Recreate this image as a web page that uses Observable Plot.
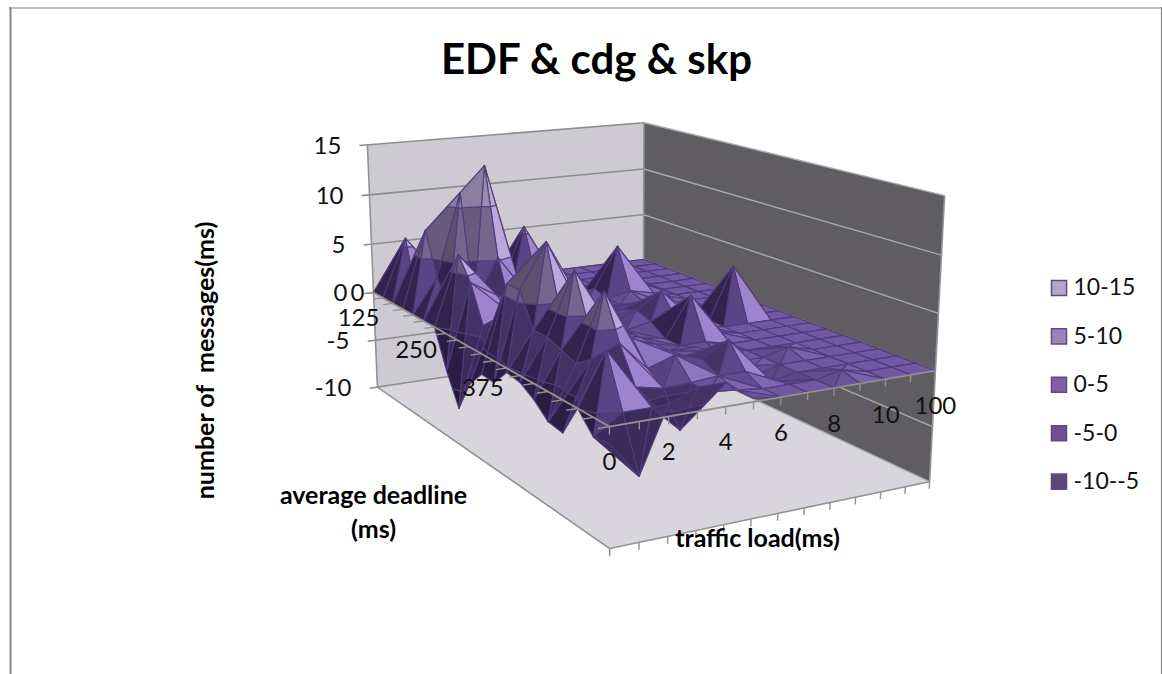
<!DOCTYPE html>
<html><head><meta charset="utf-8">
<script src="https://cdn.jsdelivr.net/npm/d3@7"></script>
<script src="https://cdn.jsdelivr.net/npm/@observablehq/plot@0.6"></script>
<style>html,body{margin:0;padding:0;background:#fff;overflow:hidden}svg{display:block}</style>
</head><body><div id="chart"></div>
<script>
// ---- data ----
const title = "EDF & cdg & skp";
const zTicks = [-10, -5, 0, 5, 10, 15];
const deadlineLabels = ["0", "125", "250", "375"];
const deadlineLabelIndex = [0, 5, 10, 15];
const loadLabels = ["0", "2", "4", "6", "8", "10", "100"];
const loadLabelIndex = [0, 2, 4, 6, 8, 10, 12];
const legendLabels = ["10-15", "5-10", "0-5", "-5-0", "-10--5"];
const legendColors = ["#b3a8c8", "#9a85bb", "#8060a5", "#6d5490", "#5d4678"];
const surface = [
  [0,0,0,0,0,0,0,0,0,0,0,0,0],
  [0,5.8,0,0,0,0,5.7,0,0,0,0,0,0],
  [0,0,2,3,1,0,1,0,0,0,0,0,0],
  [0,7.5,5,6,1,0,0,0,0,0,0,0,0],
  [0,3.4,11.4,13.8,3,0.5,0,0,0.5,0,0,0,0],
  [0,0.5,1,5.3,1,0,0,1,5,1,0,0,0],
  [0,6.6,3.5,1,1,0,0,0.5,1,0.5,0,0,0],
  [-3.6,4.5,3,2,1,0.5,0.5,0.5,0.5,0,0,0,0],
  [-6.5,1,2,2,1.5,1,1,1,0,0,0,0,0],
  [-3.5,2,3,3,2,1,1.5,2,0.5,0,0,0,0],
  [-1.9,6,6,5.5,3,1,2,3.5,1.5,0,5,0,0],
  [-2,6,10,5.5,2,1,1.5,1.5,0.5,0,0,0,0],
  [-0.4,3,4,3,1.5,1,0.5,4.2,0.5,0,0,0,0],
  [-0.6,3,8.5,3.5,1.5,1,0.5,0.5,0,0,0,0,0],
  [-1.4,2.5,4,3,1.5,1,1,0,0,0,0,0,0],
  [-2.6,2,7.8,3.5,1.1,1.2,1.3,0,0,0.6,0,0,0],
  [-2.8,3,4,1.5,2.3,1.6,2.9,0.3,0,0,0,0,0],
  [0,4.4,1,0.5,0.6,0.8,0.8,-0.4,0,0,0,0,0],
  [-1.6,0,0,-2.3,0.5,0.3,0,0,0,0.5,0,0,0],
  [-1.4,-4.5,1,2,2,0.3,0,0,0,0,0,0,0]
];
// ---- camera ----
const nI = surface.length - 1, nJ = surface[0].length - 1;
function project(i, j, z) {
  const w = 1 - 0.01295 * i + 0.00692 * j - 0.00159 * z;
  return [(373 + 4.532 * i + 26.95 * j - 0.989 * z) / w,
          (292 + 1.537 * i - 0.958 * j - 10.07 * z) / w, w];
}
// ---- shading ----
const bands = [-10, -5, 0, 5, 10, 15];
const bandBase  = ["#4a3670", "#654f92", "#7258a4", "#86739f", "#a99dbf"];
const bandDark  = ["#211633", "#2a1d44", "#31224e", "#5b5070", "#7d7290"];
const bandLight = ["#8a6fb8", "#9a7fc6", "#ab8ed9", "#c9b6ea", "#bcb0d2"];
function shade(band, f) {
  const k = f < 0 ? Math.min(1, Math.pow(-f, 0.95)) : Math.min(1, f * 1.1);
  return d3.interpolateRgb(bandBase[band], f < 0 ? bandDark[band] : bandLight[band])(k);
}
// facets to the left of their apex are in shade, facets to its right are lit
function facing(t) {
  const s = [...t].sort((p, q) => q[2] - p[2]);
  const rise = s[0][2] - s[1][2], drop = s[1][2] - s[2][2];
  const spike = drop > rise;
  const apex = spike ? s[2] : s[0];
  const rest = spike ? [s[0], s[1]] : [s[1], s[2]];
  const dz = Math.abs(apex[2] - (rest[0][2] + rest[1][2]) / 2);
  const steep = Math.min(1, dz / 2.5);
  if (spike) return -0.7 * steep;
  const dx = d3.mean(rest, q => (q[0] - apex[0]) * 13 + (q[1] - apex[1]) * 28);
  return Math.max(-1, Math.min(1, (dx - 8) / 26)) * steep;
}
function clipBand(poly, lo, hi) {
  const clip = (pts, keep, t) => {
    const out = [];
    pts.forEach((p, k) => {
      const q = pts[(k + 1) % pts.length];
      const kp = keep(p[2]), kq = keep(q[2]);
      if (kp) out.push(p);
      if (kp !== kq) {
        const r = (t - p[2]) / (q[2] - p[2]);
        out.push([p[0] + r*(q[0]-p[0]), p[1] + r*(q[1]-p[1]), t]);
      }
    });
    return out;
  };
  let r = clip(poly, z => z >= lo, lo);
  if (r.length) r = clip(r, z => z <= hi, hi);
  return r;
}
// ---- build surface facets, back to front ----
const cells = [];
for (let i = 0; i < nI; i++) for (let j = 0; j < nJ; j++) cells.push([i, j]);
cells.sort((a, b) => project(b[0]+.5, b[1]+.5, 0)[2] - project(a[0]+.5, a[1]+.5, 0)[2]);
const facets = [];
let fid = 0;
for (const [i, j] of cells) {
  const P = (a, b) => [a, b, surface[a][b]];
  const a = P(i, j), b = P(i+1, j), c = P(i+1, j+1), d = P(i, j+1);
  let tris;
  const flat = a[2] === b[2] && b[2] === c[2] && c[2] === d[2];
  if (flat) tris = [[a, b, c, d]];
  else if (Math.abs(a[2]-c[2]) >= Math.abs(b[2]-d[2])) tris = [[a, b, c], [a, c, d]];
  else tris = [[a, b, d], [b, c, d]];
  const depth = t => d3.mean(t, q => project(q[0], q[1], q[2])[2]);
  tris.sort((s, t) => depth(t) - depth(s));
  for (const t of tris) {
    const f = flat ? 0 : facing(t);
    for (let k = 0; k < bands.length - 1; k++) {
      const poly = clipBand(t, bands[k], bands[k+1]);
      if (poly.length < 3) continue;
      const area = d3.polygonArea(poly.map(q => project(q[0], q[1], q[2]).slice(0, 2)));
      if (Math.abs(area) < 0.01) continue;
      const col = shade(k, f);
      fid++;
      [...poly, poly[0]].forEach(q => {
        const [x, y] = project(q[0], q[1], q[2]);
        facets.push({x, y, id: fid, fill: col});
      });
    }
  }
}
// ---- box ----
function quad(id, fill, pts) {
  return [...pts, pts[0]].map(q => { const [x, y] = project(...q); return {x, y, id, fill}; });
}
const walls = [
  ...quad("back", "#cdcbd1", [[0,0,-10],[0,0,15],[0,nJ,15],[0,nJ,-10]]),
  ...quad("side", "#5f5d62", [[0,nJ,-10],[0,nJ,15],[nI,nJ,15],[nI,nJ,-10]]),
  ...quad("floor", "#d8d6dc", [[0,0,-10],[nI,0,-10],[nI,nJ,-10],[0,nJ,-10]])
];
function seg(a, b) {
  const [x1, y1] = project(...a), [x2, y2] = project(...b);
  return {x1, y1, x2, y2};
}
const backGrid = zTicks.map(z => seg([0,-0.32,z],[0,nJ,z]));
const sideGrid = zTicks.map(z => seg([0,nJ,z],[nI,nJ,z]));
const boxEdges = [seg([0,0,-10],[0,0,15]), seg([0,0,-10],[nI,0,-10]), seg([nI,0,-10],[nI,nJ,-10]), seg([nI,nJ,-10],[nI,nJ,15]), seg([0,nJ,-10],[0,nJ,15])];
const floorTicks = d3.range(nJ+1).map(j => seg([nI,j,-10],[nI,j,-10.65]));
const axes = [seg([0,0,0],[nI,0,0]), seg([nI,0,0],[nI,nJ,0])];
const axisTicks = [
  ...d3.range(nI+1).map(i => seg([i,0,0],[i,-0.38,0])),
  ...d3.range(nJ+1).map(j => seg([nI,j,0],[nI,j,-0.65]))
];
const zText = zTicks.map(z => { const [x, y] = project(0, 0, z); return {x: x - 26, y: y + 1, t: String(z)}; });
const depthText = deadlineLabels.map((t, k) => {
  const [x, y] = project(deadlineLabelIndex[k], 0, 0);
  return {x: x + (k ? -65 : -16), y: y + (k ? -3 : 1), t};
});
const loadText = loadLabels.map((t, k) => {
  const [x, y] = project(nI, loadLabelIndex[k], 0);
  return {x, y: y + 36, t};
});
const font = "Lato";
const legendRows = legendLabels.map((t, k) => ({t, c: legendColors[k], y: 287.5 + k * 48.4}));
const plot = Plot.plot({
  width: 1162, height: 674, margin: 0,
  x: {domain: [0, 1162], range: [0, 1162], axis: null},
  y: {domain: [0, 674], range: [0, 674], axis: null},
  style: {background: "#fff", fontFamily: font},
  marks: [
    Plot.ruleY([7.5], {x1: 9, x2: 1162, stroke: "#868686", strokeWidth: 1.2}),
    Plot.ruleX([10], {y1: 7, y2: 674, stroke: "#868686", strokeWidth: 2}),
    Plot.ruleX([1161], {y1: 7, y2: 674, stroke: "#868686", strokeWidth: 1.2}),
    Plot.line(walls, {x: "x", y: "y", z: "id", fill: "fill", stroke: null}),
    Plot.link(backGrid, {x1:"x1", y1:"y1", x2:"x2", y2:"y2", stroke: "#8d8d8d", strokeWidth: 1.6}),
    Plot.link(sideGrid, {x1:"x1", y1:"y1", x2:"x2", y2:"y2", stroke: "#a8a8a8", strokeWidth: 1.4}),
    Plot.link(boxEdges, {x1:"x1", y1:"y1", x2:"x2", y2:"y2", stroke: "#929292", strokeWidth: 1.6}),
    Plot.link(floorTicks, {x1:"x1", y1:"y1", x2:"x2", y2:"y2", stroke: "#929292", strokeWidth: 1.4}),
    Plot.line(facets, {x: "x", y: "y", z: "id", fill: "fill", stroke: "#4f3c7a", strokeWidth: 1.2, strokeLinejoin: "round", strokeOpacity: 0.9}),
    Plot.link(axes, {x1:"x1", y1:"y1", x2:"x2", y2:"y2", stroke: "#929292", strokeWidth: 1.8}),
    Plot.link(axisTicks, {x1:"x1", y1:"y1", x2:"x2", y2:"y2", stroke: "#929292", strokeWidth: 1.4}),
    Plot.text(zText, {x:"x", y:"y", text:"t", fontSize: 24, fill:"#111", textAnchor:"end", fontFamily: font}),
    Plot.text(depthText, {x:"x", y:"y", text:"t", fontSize: 24, fill:"#111", fontFamily: font}),
    Plot.text(loadText, {x:"x", y:"y", text:"t", fontSize: 24, fill:"#111", fontFamily: font}),
    Plot.text([title], {x: 596, y: 60, text: d => d, fontSize: 42, fontWeight: 700, fill: "#000", fontFamily: font}),
    Plot.text(["number of  messages(ms)"], {x: 205, y: 360, text: d => d, rotate: -90, fontSize: 25, fontWeight: 700, fill:"#000", fontFamily: font}),
    Plot.text(["average deadline"], {x: 373, y: 495, text: d => d, fontSize: 25, fontWeight: 700, fill:"#000", fontFamily: font}),
    Plot.text(["(ms)"], {x: 373, y: 529, text: d => d, fontSize: 25, fontWeight: 700, fill:"#000", fontFamily: font}),
    Plot.text(["traffic load(ms)"], {x: 757, y: 538, text: d => d, fontSize: 25, fontWeight: 700, fill:"#000", fontFamily: font}),
    Plot.dot(legendRows, {x: 1058.5, y: "y", symbol: "square", r: 8.5, fill: "c", stroke: "#5f4a86", strokeWidth: 1.5}),
    Plot.text(legendRows, {x: 1073, y: "y", text: "t", textAnchor: "start", fontSize: 23, fill:"#111", fontFamily: font})
  ]
});
document.getElementById("chart").appendChild(plot);
</script></body></html>
